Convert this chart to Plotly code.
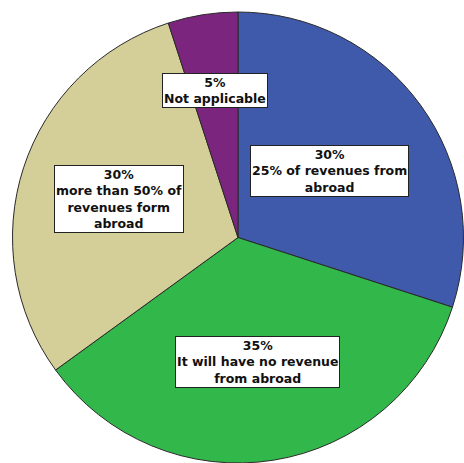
import math
import plotly.graph_objects as go

categories = ["25% of revenues from abroad", "It will have no revenue from abroad",
              "more than 50% of revenues form abroad", "Not applicable"]
values = [30, 35, 30, 5]
label_text = ["30%<br>25% of revenues from<br>abroad",
              "35%<br>It will have no revenue<br>from abroad",
              "30%<br>more than 50% of<br>revenues form<br>abroad",
              "5%<br>Not applicable"]
colors = ["#3F59AB", "#32B74A", "#D4CE98", "#7C257F"]
label_radius = [0.5, 0.56, 0.555, 0.66]

W, H = 464, 463
dom_x = [12 / W, 1.0]
dom_y = [0.0, 451 / H]

fig = go.Figure(go.Pie(
    labels=categories, values=values, sort=False, direction="clockwise", rotation=0,
    marker=dict(colors=colors, line=dict(color="#2a2a2a", width=1)),
    textinfo="none", hoverinfo="label+percent", showlegend=False,
    domain=dict(x=dom_x, y=dom_y),
))

# label positions computed from slice mid-angles
cx = (dom_x[0] + dom_x[1]) / 2 * W
cy = (dom_y[0] + dom_y[1]) / 2 * H
R = min((dom_x[1] - dom_x[0]) * W, (dom_y[1] - dom_y[0]) * H) / 2
total = sum(values)
cum = 0
for v, t, f in zip(values, label_text, label_radius):
    mid = (cum + v / 2) / total * 2 * math.pi
    cum += v
    px = cx + f * R * math.sin(mid)
    py = cy + f * R * math.cos(mid)
    fig.add_annotation(
        x=px / W, y=py / H, xref="paper", yref="paper", text=t, showarrow=False,
        xanchor="center", yanchor="middle", align="center",
        font=dict(family="DejaVu Sans", size=12.5, color="#111111", weight="bold"),
        bgcolor="white", bordercolor="#222222", borderwidth=1, borderpad=1,
    )

fig.update_layout(width=W, height=H, margin=dict(l=0, r=0, t=0, b=0),
                  paper_bgcolor="white", plot_bgcolor="white")
fig.write_html("out.html")
